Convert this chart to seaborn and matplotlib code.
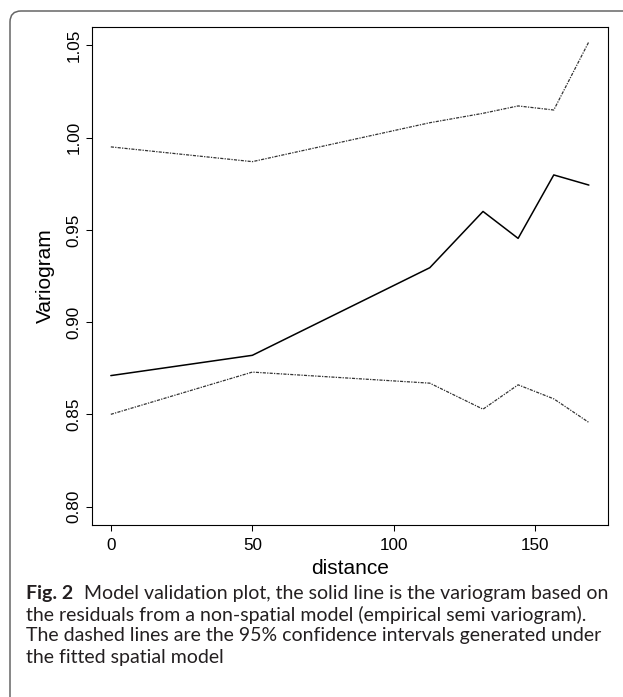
import matplotlib
matplotlib.use("Agg")
import matplotlib.pyplot as plt
import matplotlib.patches as mpatches
import matplotlib.transforms as mtransforms
import seaborn as sns

# ---- data ----
distance = [0, 50, 112.7, 131.5, 143.9, 156.5, 168.9]
empirical = [0.871, 0.882, 0.9295, 0.960, 0.9454, 0.9798, 0.9743]
upper = [0.995, 0.987, 1.0081, 1.0132, 1.0172, 1.015, 1.052]
lower = [0.850, 0.8729, 0.8669, 0.8528, 0.866, 0.8584, 0.8456]
xticks = [0, 50, 100, 150]
yticks = [0.80, 0.85, 0.90, 0.95, 1.00, 1.05]
xlabel = "distance"
ylabel = "Variogram"
caption_bold = "Fig. 2"
caption_lines = [
    "Model validation plot, the solid line is the variogram based on",
    "the residuals from a non-spatial model (empirical semi variogram).",
    "The dashed lines are the 95% confidence intervals generated under",
    "the fitted spatial model",
]

sns.set_theme(style="ticks")
plt.rcParams["font.family"] = ["Liberation Sans", "DejaVu Sans"]

W, H = 623, 697
fig = plt.figure(figsize=(W / 100, H / 100), dpi=100)
ax = fig.add_axes([91.7 / W, 1 - 525 / H, (608 - 91.7) / W, (525 - 27) / H])

dotstyle = (0, (2.5, 1, 1, 1))
sns.lineplot(x=distance, y=empirical, ax=ax, color="black", lw=1.1)
sns.lineplot(x=distance, y=upper, ax=ax, color="#333333", lw=0.9, linestyle=dotstyle)
sns.lineplot(x=distance, y=lower, ax=ax, color="#333333", lw=0.9, linestyle=dotstyle)

ax.set_xlim(-6.76, 175.66)
ax.set_ylim(0.79, 1.06)
ax.set_xticks(xticks)
ax.set_xticklabels([str(t) for t in xticks])
ax.set_yticks(yticks)
ax.set_yticklabels([f"{t:.2f}" for t in yticks], rotation=90, va="center")
ax.tick_params(axis="both", direction="out", length=4.5, width=0.75, color="black",
               labelsize=12.3, labelcolor="black")
ax.tick_params(axis="x", pad=5)
ax.tick_params(axis="y", pad=3)
for s in ax.spines.values():
    s.set_color("black")
    s.set_linewidth(0.8)
ax.set_xlabel(xlabel, fontsize=15, color="black", labelpad=4)
ax.set_ylabel(ylabel, fontsize=15, color="black", labelpad=8)

# ---- outer rounded frame ----
frame = mpatches.FancyBboxPatch((10, -12), 640, 686 + 12, boxstyle="round,pad=0,rounding_size=11",
                                transform=mtransforms.IdentityTransform(),
                                fill=False, edgecolor="#666666", linewidth=1.1)
fig.add_artist(frame)

# ---- caption ----
cap_font = ["Lato", "DejaVu Sans"]
cap_size = 14.0
x0 = 26 / W
ys = [593, 614.5, 636, 657.5]
tb = fig.text(x0, 1 - ys[0] / H, caption_bold, fontsize=cap_size, fontweight="bold",
              family=cap_font, va="center", ha="left", color="#231f20")
fig.canvas.draw()
bb = tb.get_window_extent()
fig.text((bb.x1 + 11) / W, 1 - ys[0] / H, caption_lines[0], fontsize=cap_size,
         family=cap_font, va="center", ha="left", color="#231f20")
for y, line in zip(ys[1:], caption_lines[1:]):
    fig.text(x0, 1 - y / H, line, fontsize=cap_size, family=cap_font,
             va="center", ha="left", color="#231f20")

fig.savefig("out.png", dpi=100)
